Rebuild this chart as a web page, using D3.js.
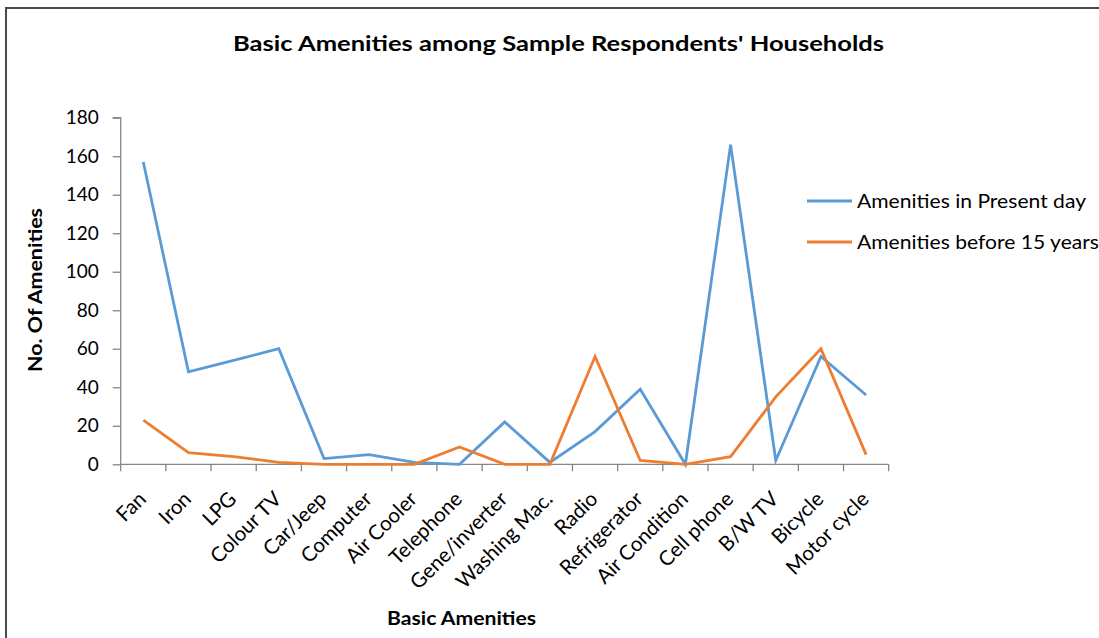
<!DOCTYPE html>
<html><head><meta charset="utf-8">
<script src="https://cdn.jsdelivr.net/npm/d3@7"></script>
<style>body{margin:0;background:#fff;overflow:hidden}</style>
</head><body>
<script>
const categories = ["Fan","Iron","LPG","Colour TV","Car/Jeep","Computer","Air Cooler","Telephone","Gene/inverter","Washing Mac.","Radio","Refrigerator","Air Condition","Cell phone","B/W TV","Bicycle","Motor cycle"];
const presentDay = [157,48,54,60,3,5,1,0,22,1,17,39,0,166,2,56,36];
const before15 = [23,6,4,1,0,0,0,9,0,0,56,2,0,4,35,60,5];
const yTicks = [0,20,40,60,80,100,120,140,160,180];
const seriesNames = ["Amenities in Present day","Amenities before 15 years"];
const colors = ["#5b9bd5","#ed7d31"];

const W=1099,H=638;
const svg=d3.select("body").append("svg").attr("width",W).attr("height",H).style("display","block");
const font="Lato, sans-serif";
svg.append("rect").attr("x",6).attr("y",8).attr("width",1130).attr("height",680).attr("fill","#fff").attr("stroke","#4a4a4a").attr("stroke-width",2);

const x0=120.7,x1=888.7,yb=464.3,yt=117.7;
const x=d3.scaleBand().domain(categories).range([x0,x1]).padding(0);
const y=d3.scaleLinear().domain([0,180]).range([yb,yt]);
const axisColor="#868686";

// y axis
const ya=svg.append("g").attr("transform",`translate(${x0},0)`).call(d3.axisLeft(y).tickValues(yTicks).tickSize(8).tickPadding(14));
ya.select(".domain").attr("stroke",axisColor).attr("stroke-width",1.3).attr("d",`M-8,${yt}H0V${yb}`);
ya.selectAll(".tick line").attr("stroke",axisColor).attr("stroke-width",1.3);
ya.selectAll(".tick text").attr("font-family",font).attr("font-size",19).attr("fill","#000");

// x axis
const xa=svg.append("g").attr("transform",`translate(0,${yb})`).call(d3.axisBottom(x).tickSize(0).tickFormat(""));
xa.select(".domain").attr("stroke",axisColor).attr("stroke-width",1.3).attr("d",`M${x0},0H${x1}`);
const edges=d3.range(categories.length+1).map(i=>x0+i*x.bandwidth());
xa.selectAll("line.edge").data(edges).join("line").attr("class","edge").attr("x1",d=>d).attr("x2",d=>d).attr("y1",0).attr("y2",7).attr("stroke",axisColor).attr("stroke-width",1.3);
svg.append("g").selectAll("text").data(categories).join("text")
  .attr("transform",d=>`translate(${x(d)+x.bandwidth()/2+4},${yb+36}) rotate(-45)`)
  .attr("text-anchor","end").attr("font-family",font).attr("font-size",20.5).text(d=>d);

// lines
const line=d3.line().x((d,i)=>x(categories[i])+x.bandwidth()/2).y(d=>y(d));
[presentDay,before15].forEach((s,k)=>{
  svg.append("path").datum(s).attr("d",line).attr("fill","none").attr("stroke",colors[k]).attr("stroke-width",2.8).attr("stroke-linejoin","miter");
});

// title
svg.append("text").attr("x",558.5).attr("y",51).attr("text-anchor","middle").attr("font-family",font).attr("font-weight","bold").attr("font-size",20).attr("textLength",651).attr("lengthAdjust","spacingAndGlyphs").text("Basic Amenities among Sample Respondents' Households");
svg.append("text").attr("transform","translate(42,290) rotate(-90)").attr("text-anchor","middle").attr("font-family",font).attr("font-weight","bold").attr("font-size",19).attr("textLength",164).attr("lengthAdjust","spacingAndGlyphs").text("No. Of Amenities");
svg.append("text").attr("x",461.5).attr("y",625).attr("text-anchor","middle").attr("font-family",font).attr("font-weight","bold").attr("font-size",19).attr("textLength",149).attr("lengthAdjust","spacingAndGlyphs").text("Basic Amenities");

// legend
const lg=svg.append("g");
const legLens=[229,242];
seriesNames.forEach((n,k)=>{
  const yy=201+k*41;
  lg.append("line").attr("x1",807).attr("x2",852).attr("y1",yy).attr("y2",yy).attr("stroke",colors[k]).attr("stroke-width",2.8);
  lg.append("text").attr("x",857).attr("y",yy).attr("dy","0.35em").attr("font-family",font).attr("font-size",19).attr("textLength",legLens[k]).attr("lengthAdjust","spacingAndGlyphs").text(n);
});
</script>
</body></html>
